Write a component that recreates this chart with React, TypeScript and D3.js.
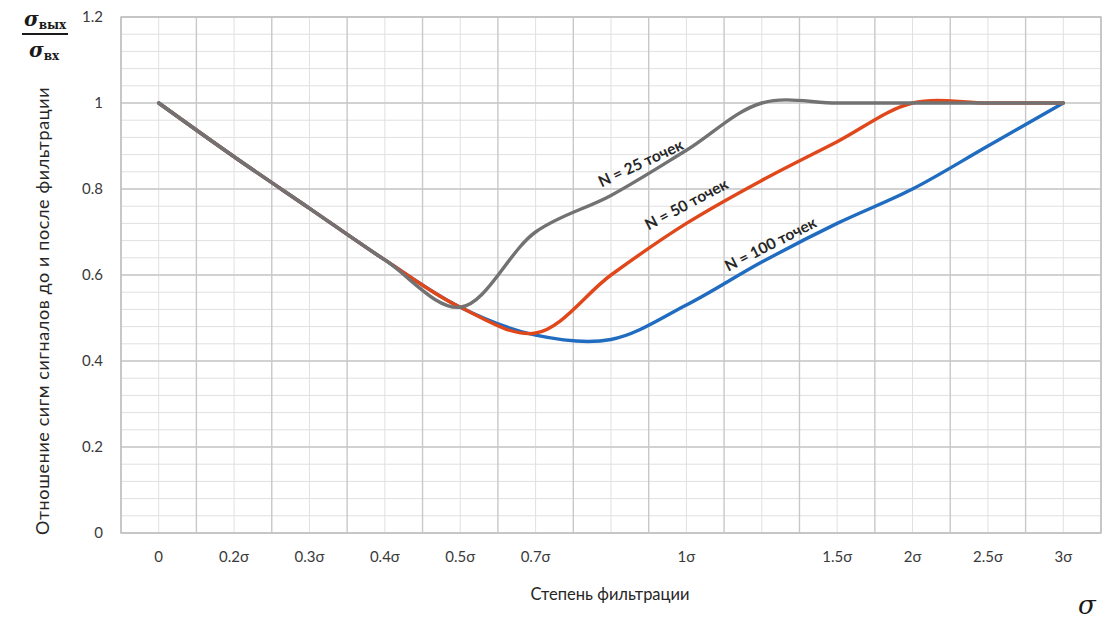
import React, { useRef, useEffect } from 'react';
import * as d3 from 'd3';

// category labels along the x axis (blank slots are unlabeled positions)
const xLabels = ['0', '0.2σ', '0.3σ', '0.4σ', '0.5σ', '0.7σ', '', '1σ', '', '1.5σ', '2σ', '2.5σ', '3σ'];
const yTicks = [0, 0.2, 0.4, 0.6, 0.8, 1, 1.2];

const n25 = [1, 0.875, 0.755, 0.635, 0.525, 0.70, 0.785, 0.89, 1.0, 1.0, 1.0, 1.0, 1.0];
const n50 = [1, 0.875, 0.755, 0.635, 0.525, 0.465, 0.60, 0.72, 0.82, 0.91, 1.0, 1.0, 1.0];
const n100 = [1, 0.875, 0.755, 0.635, 0.525, 0.46, 0.45, 0.53, 0.63, 0.72, 0.80, 0.90, 1.0];

const seriesNames = ['N = 100 точек', 'N = 50 точек', 'N = 25 точек'];
const seriesColors = ['#1f6cc0', '#e0481b', '#727272'];

const FONT = 'Lato, "Open Sans", sans-serif';

const App = () => {
  const svgRef = useRef<SVGSVGElement | null>(null);

  useEffect(() => {
    const svg = d3.select(svgRef.current);
    svg.selectAll('*').remove();

    const left = 121, right = 1101, top = 17, bottom = 533;

    const x = d3.scaleBand<number>()
      .domain(xLabels.map((_, i) => i))
      .range([left, right])
      .padding(0);
    const y = d3.scaleLinear().domain([0, 1.2]).range([bottom, top]);
    const cx = (i: number) => (x(i) as number) + x.bandwidth() / 2;

    svg.append('rect')
      .attr('width', 1110).attr('height', 619).attr('fill', '#fff');

    // minor horizontal grid (every 0.04)
    const minorY = d3.range(0, 1.2001, 0.04);
    svg.append('g').selectAll('line')
      .data(minorY)
      .enter().append('line')
      .attr('x1', left).attr('x2', right)
      .attr('y1', d => y(d)).attr('y2', d => y(d))
      .attr('stroke', '#e0e0e0').attr('stroke-width', 1);

    // minor vertical grid at category centers
    svg.append('g').selectAll('line')
      .data(xLabels.map((_, i) => i))
      .enter().append('line')
      .attr('x1', d => cx(d)).attr('x2', d => cx(d))
      .attr('y1', top).attr('y2', bottom)
      .attr('stroke', '#e0e0e0').attr('stroke-width', 1);

    // major grid
    svg.append('g').selectAll('line')
      .data(yTicks)
      .enter().append('line')
      .attr('x1', left).attr('x2', right)
      .attr('y1', d => y(d)).attr('y2', d => y(d))
      .attr('stroke', '#c8c8c8').attr('stroke-width', 1.4);

    svg.append('g').selectAll('line')
      .data(d3.range(0, xLabels.length + 1))
      .enter().append('line')
      .attr('x1', d => left + d * x.bandwidth()).attr('x2', d => left + d * x.bandwidth())
      .attr('y1', top).attr('y2', bottom)
      .attr('stroke', '#c8c8c8').attr('stroke-width', 1.4);

    svg.append('rect')
      .attr('x', left).attr('y', top)
      .attr('width', right - left).attr('height', bottom - top)
      .attr('fill', 'none').attr('stroke', '#c0c0c0').attr('stroke-width', 1.4);

    // axes labels
    const yAxis = d3.axisLeft(y).tickValues(yTicks).tickSize(0).tickPadding(18)
      .tickFormat(d => String(d));
    const ya = svg.append('g').attr('transform', `translate(${left},0)`).call(yAxis);
    ya.select('.domain').remove();
    ya.selectAll('text')
      .attr('font-family', FONT).attr('font-size', 15).attr('fill', '#3a3a3a');

    const xAxis = d3.axisBottom(x).tickSize(0).tickPadding(18)
      .tickFormat(i => xLabels[i as number]);
    const xa = svg.append('g').attr('transform', `translate(0,${bottom})`).call(xAxis);
    xa.select('.domain').remove();
    xa.selectAll('text')
      .attr('font-family', FONT).attr('font-size', 15).attr('fill', '#3a3a3a');

    // curves
    const line = d3.line<number>()
      .x((_, i) => cx(i))
      .y(d => y(d))
      .curve(d3.curveCatmullRom.alpha(0.5));

    [n100, n50, n25].forEach((s, k) => {
      svg.append('path')
        .datum(s)
        .attr('d', line)
        .attr('fill', 'none')
        .attr('stroke', seriesColors[k])
        .attr('stroke-width', 3.4)
        .attr('stroke-linejoin', 'round')
        .attr('stroke-linecap', 'round');
    });

    // curve labels
    const labelPos = [
      { x: 773, y: 249, a: -27 },
      { x: 689, y: 209, a: -28 },
      { x: 643, y: 168, a: -25 },
    ];
    labelPos.forEach((p, k) => {
      svg.append('text')
        .attr('transform', `translate(${p.x},${p.y}) rotate(${p.a})`)
        .attr('text-anchor', 'middle')
        .attr('font-family', FONT).attr('font-size', 15.5).attr('font-weight', 700)
        .attr('fill', '#262626')
        .text(seriesNames[k]);
    });

    // axis titles
    svg.append('text')
      .attr('x', 610).attr('y', 600)
      .attr('text-anchor', 'middle')
      .attr('font-family', FONT).attr('font-size', 16.5).attr('fill', '#262626')
      .text('Степень фильтрации');

    svg.append('text')
      .attr('transform', 'translate(49,311) rotate(-90)')
      .attr('text-anchor', 'middle')
      .attr('font-family', FONT).attr('font-size', 18).attr('letter-spacing', 0.6)
      .attr('fill', '#262626')
      .text('Отношение сигм сигналов до и  после фильтрации');

    // sigma fraction
    const frac = svg.append('g').attr('font-family', '"DejaVu Serif", serif').attr('fill', '#1a1a1a');
    const num = frac.append('text').attr('x', 24).attr('y', 26);
    num.append('tspan').attr('font-style', 'italic').attr('font-weight', 700).attr('font-size', 20).text('σ');
    num.append('tspan').attr('font-size', 12).attr('font-weight', 700).attr('dy', 3).text('вых');
    frac.append('line')
      .attr('x1', 22).attr('x2', 68).attr('y1', 34).attr('y2', 34)
      .attr('stroke', '#1a1a1a').attr('stroke-width', 1.8);
    const den = frac.append('text').attr('x', 29).attr('y', 57);
    den.append('tspan').attr('font-style', 'italic').attr('font-weight', 700).attr('font-size', 20).text('σ');
    den.append('tspan').attr('font-size', 12).attr('font-weight', 700).attr('dy', 3).text('вх');

    svg.append('text')
      .attr('x', 1078).attr('y', 614)
      .attr('font-family', '"DejaVu Serif", serif')
      .attr('font-style', 'italic').attr('font-size', 26).attr('fill', '#1a1a1a')
      .text('σ');
  }, []);

  return (
    <svg ref={svgRef} width={1110} height={619}
      style={{ position: 'absolute', left: 0, top: 0 }} />
  );
};

export default App;
